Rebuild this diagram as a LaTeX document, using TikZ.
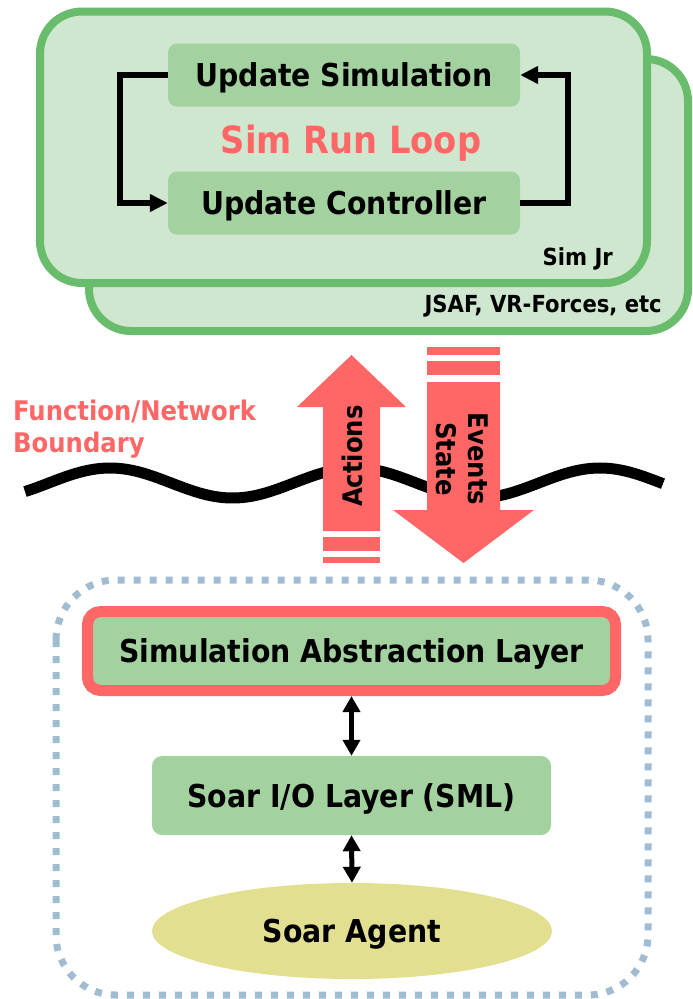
\documentclass[tikz,border=0pt]{standalone}
\usepackage{fontspec}
\setmainfont{DejaVu Sans Condensed}
\usetikzlibrary{arrows.meta, positioning, shapes.geometric}
\definecolor{simfill}{RGB}{207, 231, 206}
\definecolor{simedge}{RGB}{104, 188, 108}
\definecolor{stepfill}{RGB}{163, 210, 160}
\definecolor{boundary}{RGB}{255, 102, 102}
\definecolor{agentfill}{RGB}{226, 224, 144}
\definecolor{dotblue}{RGB}{160, 188, 210}

\begin{document}
\begin{tikzpicture}[x=1pt, y=-1pt,
        simbox/.style={draw=simedge, fill=simfill, line width=8pt, rounded corners=42pt},
        stepbox/.style={fill=stepfill, rounded corners=9pt, minimum width=352pt, minimum height=63pt, text depth=0pt, font=\fontsize{31.5}{36}\selectfont\bfseries},
        layerbox/.style={fill=stepfill, rounded corners=10pt, minimum width=399pt, minimum height=79pt, text depth=0pt, font=\fontsize{31.5}{36}\selectfont\bfseries},
        loopline/.style={line width=6pt, -{Triangle[length=18pt, width=17pt]}},
        link/.style={line width=5pt, {Triangle[length=16pt, width=17pt]}-{Triangle[length=16pt, width=17pt]}}]
        \useasboundingbox (0,0) rectangle (693,999);

        \draw[simbox] (89,59) rectangle (688,331);
        \draw[simbox] (40,11.5) rectangle (647,283);
        \node[anchor=base east, inner sep=0pt, font=\fontsize{23.5}{28}\selectfont\bfseries] (others) at (662,312) {JSAF, VR-Forces, etc};
        \node[anchor=base east, inner sep=0pt, font=\fontsize{23.5}{28}\selectfont\bfseries] (simjr) at (613,265) {Sim Jr};

        \node[stepbox] (updsim) at (344,75) {Update Simulation};
        \node[stepbox] (updctrl) at (344,203) {Update Controller};
        \node[anchor=base, text=boundary, font=\fontsize{37.5}{44}\selectfont\bfseries] (runloop) at (351,153) {Sim Run Loop};
        \draw[loopline] (updsim.west) -- ++(-48,0) |- (updctrl.west);
        \draw[loopline] (updctrl.east) -- ++(48,0) |- (updsim.east);

        \node[anchor=north west, inner sep=0pt, align=left, text=boundary, font=\fontsize{27}{32}\selectfont\bfseries] (netbound) at (13,400) {Function/Network\\Boundary};
        \draw[line width=11pt] plot[domain=25:663, samples=120, smooth] (\x, {483-15*cos(1.4694*(\x-110))});

        \fill[boundary] (323,531) -- (323,407) -- (297,407) -- (351.5,355) -- (406,407) -- (380,407) -- (380,531) -- cycle;
        \foreach \ya/\yb in {537/551, 557/563}
            \fill[boundary] (323,\ya) rectangle (380,\yb);
        \fill[boundary] (427,382) -- (500,382) -- (500,510) -- (534,510) -- (463.5,563) -- (393,510) -- (427,510) -- cycle;
        \foreach \ya/\yb in {347/355, 361/375}
            \fill[boundary] (427,\ya) rectangle (500,\yb);
        \node[rotate=90, font=\fontsize{27}{32}\selectfont\bfseries] (actions) at (352,456) {Actions};
        \node[rotate=-90, align=center, font=\fontsize{27}{32}\selectfont\bfseries] (events) at (462,459) {Events\\State};

        \draw[dotblue, line width=7pt, dash pattern=on 7pt off 9pt, rounded corners=60pt] (56,580) rectangle (648,995);
        \node[layerbox, draw=boundary, line width=11pt, rounded corners=13pt, minimum width=528pt] (abstraction) at (351.5,651) {Simulation Abstraction Layer};
        \node[layerbox] (soario) at (351.5,795.5) {Soar I/O Layer (SML)};
        \node[ellipse, fill=agentfill, inner sep=0pt, minimum width=400pt, minimum height=96pt, text depth=0pt, font=\fontsize{31.5}{36}\selectfont\bfseries] (agent) at (352,931) {Soar Agent};
        \draw[link] (abstraction.south) -- (soario.north);
        \draw[link] (soario.south) -- (agent.north);
    \end{tikzpicture}
\end{document}
